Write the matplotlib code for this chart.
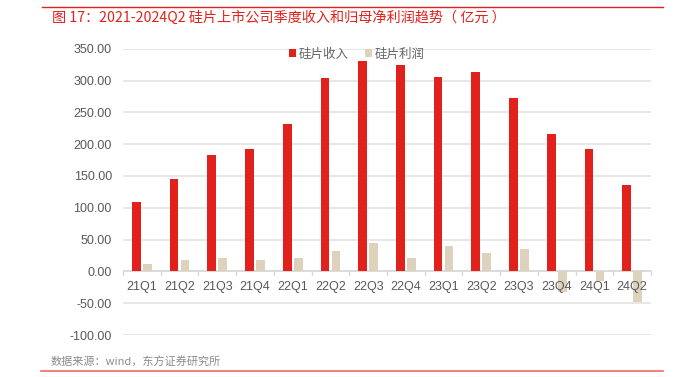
import matplotlib
matplotlib.use("Agg")
import matplotlib.pyplot as plt
import numpy as np

plt.rcParams['font.family'] = ['Noto Sans CJK SC', 'DejaVu Sans']

categories = ["21Q1", "21Q2", "21Q3", "21Q4", "22Q1", "22Q2", "22Q3", "22Q4",
              "23Q1", "23Q2", "23Q3", "23Q4", "24Q1", "24Q2"]
revenue = [108.3, 145.3, 182.2, 192.0, 232.0, 304.0, 330.0, 323.7,
           305.0, 312.6, 273.0, 215.8, 192.0, 135.0]
profit = [11.0, 17.8, 21.6, 18.4, 21.6, 32.0, 44.0, 20.5,
          40.0, 28.4, 34.7, -32.6, -15.8, -48.4]
yticks = [-100, -50, 0, 50, 100, 150, 200, 250, 300, 350]

W, H = 677, 377
fig = plt.figure(figsize=(W / 100, H / 100), dpi=100)
ax = fig.add_axes([123 / W, 1 - 335 / H, (651 - 123) / W, (335 - 48.7) / H])

x = np.arange(len(categories))
bw = 0.23
ax.bar(x - 0.145, revenue, bw, color="#E2211C", label="硅片收入", zorder=3)
ax.bar(x + 0.145, profit, bw, color="#DDD3BC", label="硅片利润", zorder=3)

ax.set_xlim(-0.5, len(categories) - 0.5)
ax.set_ylim(-100, 350)
ax.set_yticks(yticks)
ax.set_yticklabels([f"{v:.2f}" for v in yticks], color="#595959", fontsize=9,
                   family=['Liberation Sans'])
ax.tick_params(axis="y", length=0, pad=8)
ax.grid(axis="y", color="#E3E3E3", linewidth=1.2, zorder=0)
ax.set_xticks([])
for s in ax.spines.values():
    s.set_visible(False)
ax.axhline(0, color="#D9D9D9", linewidth=1.2, zorder=2)
for i in range(len(categories) + 1):
    ax.plot([i - 0.5, i - 0.5], [0, -5], color="#D9D9D9", linewidth=1, zorder=2,
            clip_on=False)
for i, c in enumerate(categories):
    ax.text(i, -25, c, ha="center", va="center", color="#595959", fontsize=9,
            family=['Liberation Sans'])

leg = ax.legend(loc="center", bbox_to_anchor=(0.443, 0.981), ncol=2, frameon=False,
                fontsize=9, handlelength=0.55, handleheight=0.55, handletextpad=0.25,
                columnspacing=1.3, labelcolor="#666666", borderpad=0, borderaxespad=0)

fig.text(52 / W, 1 - 18 / H, "图 17：2021-2024Q2 硅片上市公司季度收入和归母净利润趋势（ 亿元 ）",
         color="#E2211C", fontsize=10.2, va="center", ha="left")
fig.text(51 / W, 1 - 362 / H, "数据来源：wind，东方证券研究所", color="#8C8C8C",
         fontsize=8, va="center", ha="left")
fig.add_artist(plt.Line2D([42 / W, 663 / W], [1 - 7 / H, 1 - 7 / H], color="#E2211C",
                          linewidth=1, transform=fig.transFigure))
fig.add_artist(plt.Line2D([41 / W, 663 / W], [1 - 371.3 / H, 1 - 371.3 / H], color="#F06A60",
                          linewidth=1.2, transform=fig.transFigure))

fig.savefig("out.png", dpi=100, facecolor="white")
